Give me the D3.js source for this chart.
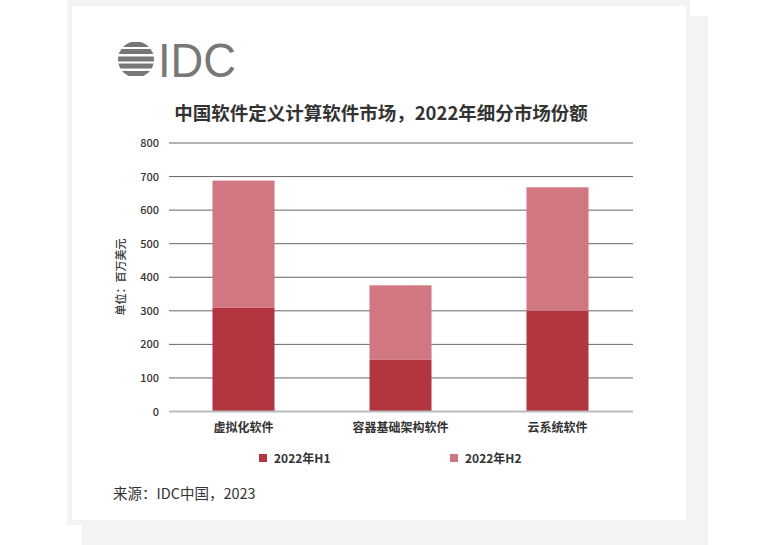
<!DOCTYPE html>
<html>
<head>
<meta charset="utf-8">
<script src="https://cdn.jsdelivr.net/npm/d3@7"></script>
<style>
  html, body { margin: 0; padding: 0; background: #fff; }
  svg { display: block; font-family: "Noto Sans CJK SC", "Noto Sans", sans-serif; }
</style>
</head>
<body>
<div id="chart"></div>
<script>
// data
const categories = ["虚拟化软件", "容器基础架构软件", "云系统软件"];
const seriesNames = ["2022年H1", "2022年H2"];
const h1Values = [310, 155, 300];
const h2Values = [378, 221, 368];
const yTicks = [0, 100, 200, 300, 400, 500, 600, 700, 800];
const titleText = "中国软件定义计算软件市场，2022年细分市场份额";
const yTitle = "单位：百万美元";
const sourceText = "来源：IDC中国，2023";
const colors = ["#b3353f", "#d07782"];

const W = 760, H = 545;

const svg = d3.select("#chart").append("svg")
    .attr("width", W)
    .attr("height", H);

// card background
svg.append("rect").attr("x", 82).attr("y", 16).attr("width", 626).attr("height", 540).attr("fill", "#f3f3f3");
svg.append("rect").attr("x", 67).attr("y", 0).attr("width", 623).attr("height", 525).attr("fill", "#f3f3f3");
svg.append("rect").attr("x", 72).attr("y", 6).attr("width", 614).attr("height", 514).attr("fill", "#fff");

// IDC logo
const logo = svg.append("g");
logo.append("clipPath").attr("id", "globe")
    .append("circle").attr("cx", 136).attr("cy", 59.5).attr("r", 18);
[42, 49, 56.5, 63.5, 71].forEach(y => {
    logo.append("rect")
        .attr("x", 117).attr("y", y).attr("width", 38).attr("height", 5)
        .attr("fill", "#777")
        .attr("clip-path", "url(#globe)");
});
logo.append("text")
    .attr("x", 158).attr("y", 77)
    .attr("font-family", "'Liberation Sans', Arial, sans-serif")
    .attr("font-size", 48)
    .attr("textLength", 78)
    .attr("lengthAdjust", "spacingAndGlyphs")
    .attr("fill", "#777")
    .text("IDC");

// title
svg.append("text")
    .attr("x", 381).attr("y", 120)
    .attr("text-anchor", "middle")
    .attr("font-size", 18.5)
    .attr("font-weight", "bold")
    .attr("fill", "#333")
    .text(titleText);

// scales
const xScale = d3.scaleBand()
    .domain(categories)
    .range([165, 636])
    .paddingInner(0.605)
    .paddingOuter(0.3025);

const yScale = d3.scaleLinear()
    .domain([0, 800])
    .range([411.5, 143]);

// gridlines
svg.append("g")
    .selectAll("line")
    .data(yTicks.filter(d => d > 0))
    .join("line")
    .attr("x1", 169).attr("x2", 633)
    .attr("y1", d => yScale(d)).attr("y2", d => yScale(d))
    .attr("stroke", "#666")
    .attr("stroke-width", 1);

// y axis labels
const yAxis = svg.append("g")
    .attr("transform", "translate(169,0)")
    .call(d3.axisLeft(yScale).tickValues(yTicks).tickSize(0).tickPadding(10));
yAxis.select(".domain").remove();
yAxis.selectAll("text")
    .attr("font-family", "'Noto Sans CJK SC', 'Noto Sans', sans-serif")
    .attr("font-size", 11)
    .attr("font-weight", 500)
    .attr("fill", "#333");

// stacked bars
const stackData = categories.map((c, i) => ({ cat: c, h1: h1Values[i], h2: h2Values[i] }));
const stacked = d3.stack().keys(["h1", "h2"])(stackData);

svg.append("g")
    .selectAll("g")
    .data(stacked)
    .join("g")
    .attr("fill", (d, i) => colors[i])
    .selectAll("rect")
    .data(d => d)
    .join("rect")
    .attr("x", d => xScale(d.data.cat))
    .attr("width", xScale.bandwidth())
    .attr("y", d => yScale(d[1]))
    .attr("height", d => yScale(d[0]) - yScale(d[1]));

// zero line
svg.append("line")
    .attr("x1", 169).attr("x2", 633)
    .attr("y1", yScale(0)).attr("y2", yScale(0))
    .attr("stroke", "#bbb")
    .attr("stroke-width", 2);

// x axis labels
const xAxis = svg.append("g")
    .attr("transform", `translate(0,${yScale(0)})`)
    .call(d3.axisBottom(xScale).tickSize(0).tickPadding(12));
xAxis.select(".domain").remove();
xAxis.selectAll("text")
    .attr("font-family", "'Noto Sans CJK SC', 'Noto Sans', sans-serif")
    .attr("font-size", 12)
    .attr("font-weight", "bold")
    .attr("fill", "#333");

// y title
svg.append("text")
    .attr("transform", "translate(125,277) rotate(-90)")
    .attr("text-anchor", "middle")
    .attr("font-size", 11)
    .attr("font-weight", 500)
    .attr("fill", "#333")
    .text(yTitle);

// legend
const legendX = [259, 450];
const legend = svg.append("g")
    .selectAll("g")
    .data(seriesNames)
    .join("g")
    .attr("transform", (d, i) => `translate(${legendX[i]},454)`);
legend.append("rect")
    .attr("width", 8).attr("height", 8)
    .attr("fill", (d, i) => colors[i]);
legend.append("text")
    .attr("x", 15).attr("y", 8.5)
    .attr("font-size", 12)
    .attr("font-weight", "bold")
    .attr("fill", "#333")
    .text(d => d);

// source
svg.append("text")
    .attr("x", 113).attr("y", 499)
    .attr("font-size", 14.5)
    .attr("fill", "#333")
    .text(sourceText);
</script>
</body>
</html>
